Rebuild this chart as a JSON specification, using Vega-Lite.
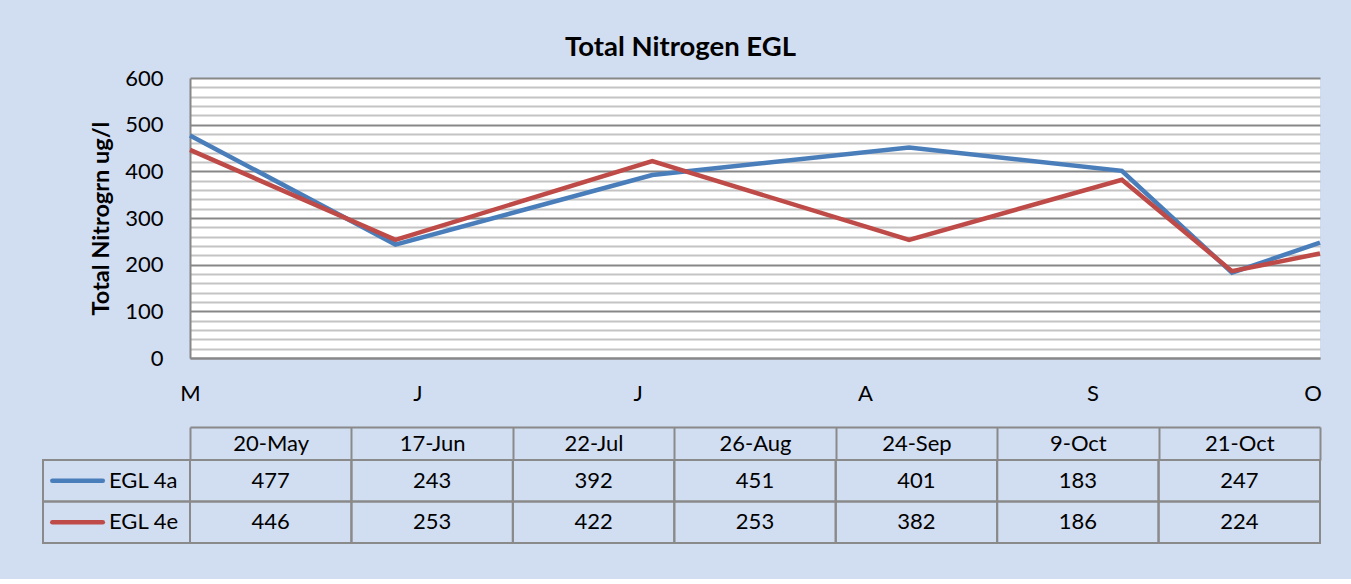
{
  "$schema": "https://vega.github.io/schema/vega-lite/v6.json",
  "background": "#d1ddf0",
  "autosize": {"type": "pad"},
  "padding": {"left": 42, "top": 33, "right": 30, "bottom": 35},
  "title": {"text": "Total Nitrogen EGL", "font": "Lato", "fontSize": 27.5, "fontWeight": "bold", "color": "#000000", "anchor": "middle", "offset": 6, "dx": -5},
  "spacing": 22,
  "config": {
    "font": "Lato",
    "view": {"stroke": null},
    "axis": {"labelFont": "Lato", "titleFont": "Lato", "labelColor": "#000000", "titleColor": "#000000"},
    "text": {"font": "Lato"}
  },
  "datasets": {
    "nitrogen": [
      {"date": "2013-05-20T00:00:00", "label": "20-May", "series": "EGL 4a", "value": 477},
      {"date": "2013-06-17T00:00:00", "label": "17-Jun", "series": "EGL 4a", "value": 243},
      {"date": "2013-07-22T00:00:00", "label": "22-Jul", "series": "EGL 4a", "value": 392},
      {"date": "2013-08-26T00:00:00", "label": "26-Aug", "series": "EGL 4a", "value": 451},
      {"date": "2013-09-24T00:00:00", "label": "24-Sep", "series": "EGL 4a", "value": 401},
      {"date": "2013-10-09T00:00:00", "label": "9-Oct", "series": "EGL 4a", "value": 183},
      {"date": "2013-10-21T00:00:00", "label": "21-Oct", "series": "EGL 4a", "value": 247},
      {"date": "2013-05-20T00:00:00", "label": "20-May", "series": "EGL 4e", "value": 446},
      {"date": "2013-06-17T00:00:00", "label": "17-Jun", "series": "EGL 4e", "value": 253},
      {"date": "2013-07-22T00:00:00", "label": "22-Jul", "series": "EGL 4e", "value": 422},
      {"date": "2013-08-26T00:00:00", "label": "26-Aug", "series": "EGL 4e", "value": 253},
      {"date": "2013-09-24T00:00:00", "label": "24-Sep", "series": "EGL 4e", "value": 382},
      {"date": "2013-10-09T00:00:00", "label": "9-Oct", "series": "EGL 4e", "value": 186},
      {"date": "2013-10-21T00:00:00", "label": "21-Oct", "series": "EGL 4e", "value": 224}
    ],
    "series": [
      {"series": "EGL 4a"},
      {"series": "EGL 4e"}
    ]
  },
  "vconcat": [
    {
      "width": 1130,
      "height": 280,
      "view": {"fill": "#ffffff", "stroke": null},
      "data": {"name": "nitrogen"},
      "mark": {"type": "line", "strokeWidth": 4.5, "strokeJoin": "miter"},
      "encoding": {
        "x": {
          "field": "date",
          "type": "temporal",
          "scale": {"domain": [{"year": 2013, "month": 5, "date": 20}, {"year": 2013, "month": 10, "date": 21}]},
          "axis": {
            "title": null,
            "values": [
              {"year": 2013, "month": 5, "date": 20},
              {"year": 2013, "month": 6, "date": 20},
              {"year": 2013, "month": 7, "date": 20},
              {"year": 2013, "month": 8, "date": 20},
              {"year": 2013, "month": 9, "date": 20},
              {"year": 2013, "month": 10, "date": 20}
            ],
            "labelExpr": "substring(timeFormat(datum.value, '%b'), 0, 1)",
            "labelFontSize": 22,
            "labelPadding": 25,
            "labelFlush": false,
            "labelOverlap": false,
            "ticks": false,
            "tickSize": 0,
            "grid": false,
            "domainColor": "#878787",
            "domainWidth": 2
          }
        },
        "y": {
          "field": "value",
          "type": "quantitative",
          "scale": {"domain": [0, 600], "nice": false},
          "axis": {
            "title": "Total Nitrogrn ug/l",
            "titleFontSize": 23.5,
            "titleFontWeight": "bold",
            "titlePadding": 11,
            "values": [0, 20, 40, 60, 80, 100, 120, 140, 160, 180, 200, 220, 240, 260, 280, 300, 320, 340, 360, 380, 400, 420, 440, 460, 480, 500, 520, 540, 560, 580, 600],
            "labelExpr": "datum.value % 100 === 0 ? datum.label : ''",
            "labelFontSize": 22,
            "labelPadding": 27,
            "labelOverlap": false,
            "labelFlush": false,
            "ticks": false,
            "tickSize": 0,
            "grid": true,
            "gridColor": {"condition": {"test": "datum.value % 100 === 0", "value": "#878787"}, "value": "#c4c4c4"},
            "gridWidth": 2,
            "domainColor": "#878787",
            "domainWidth": 2
          }
        },
        "color": {
          "field": "series",
          "type": "nominal",
          "scale": {"domain": ["EGL 4a", "EGL 4e"], "range": ["#4a7ebb", "#be4b48"]},
          "legend": null
        }
      }
    },
    {
      "width": 1130,
      "height": 83,
      "data": {"name": "nitrogen"},
      "layer": [
        {
          "layer": [
            {
              "mark": {"type": "rect", "fillOpacity": 0, "fill": "#ffffff", "stroke": "#8a8a8a", "strokeWidth": 2},
              "encoding": {
                "x": {
                  "field": "label",
                  "type": "nominal",
                  "sort": ["20-May", "17-Jun", "22-Jul", "26-Aug", "24-Sep", "9-Oct", "21-Oct"],
                  "scale": {"type": "band", "paddingInner": 0, "paddingOuter": 0},
                  "axis": {
                    "orient": "top",
                    "title": null,
                    "offset": 33,
                    "tickBand": "extent",
                    "tickSize": -33,
                    "tickColor": "#8a8a8a",
                    "tickWidth": 2,
                    "domainColor": "#8a8a8a",
                    "domainWidth": 2,
                    "labelFontSize": 22,
                    "labelAngle": 0,
                    "labelBaseline": "middle",
                    "labelPadding": 16.5
                  }
                },
                "y": {"field": "series", "type": "nominal", "scale": {"type": "band", "paddingInner": 0, "paddingOuter": 0}, "axis": null}
              }
            },
            {
              "mark": {"type": "text", "fontSize": 22, "color": "#000000"},
              "encoding": {
                "x": {"field": "label", "type": "nominal", "sort": ["20-May", "17-Jun", "22-Jul", "26-Aug", "24-Sep", "9-Oct", "21-Oct"]},
                "y": {"field": "series", "type": "nominal"},
                "text": {"field": "value", "type": "quantitative"}
              }
            }
          ]
        },
        {
          "data": {"name": "series"},
          "layer": [
            {
              "mark": {"type": "rect", "fillOpacity": 0, "fill": "#ffffff", "stroke": "#8a8a8a", "strokeWidth": 2},
              "encoding": {
                "x": {"datum": "key", "type": "nominal", "scale": {"type": "band", "range": [-147, 0], "paddingInner": 0, "paddingOuter": 0}, "axis": null},
                "y": {"field": "series", "type": "nominal", "axis": null}
              }
            },
            {
              "mark": {"type": "point", "shape": "stroke", "size": 2550, "strokeWidth": 4.5, "strokeCap": "round", "filled": false, "opacity": 1},
              "encoding": {
                "x": {"datum": "key", "type": "nominal", "bandPosition": 0.235},
                "y": {"field": "series", "type": "nominal"},
                "color": {"field": "series", "type": "nominal", "legend": null}
              }
            },
            {
              "mark": {"type": "text", "align": "left", "fontSize": 22, "color": "#000000"},
              "encoding": {
                "x": {"datum": "key", "type": "nominal", "bandPosition": 0.449},
                "y": {"field": "series", "type": "nominal"},
                "text": {"field": "series", "type": "nominal"}
              }
            }
          ]
        }
      ],
      "resolve": {"scale": {"x": "independent"}}
    }
  ]
}
